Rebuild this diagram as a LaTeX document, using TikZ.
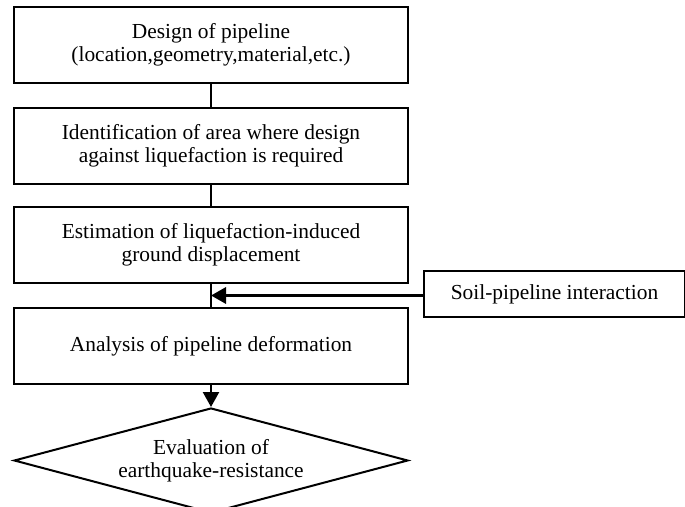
\documentclass[tikz,border=0pt]{standalone}
\usepackage{fontspec}
\setmainfont{Liberation Serif}
\usetikzlibrary{shapes.geometric, arrows.meta, positioning, calc}
\tikzset{
    flowbox/.style={rectangle, draw=black, fill=white, minimum width=197pt, minimum height=38pt, align=center, font=\fontsize{10.7pt}{11.7pt}\selectfont, line width=1pt, inner sep=2pt},
    flowdecision/.style={diamond, draw=black, fill=white, aspect=3.75, minimum width=197pt, minimum height=52.5pt, align=center, font=\fontsize{10.7pt}{11.7pt}\selectfont, line width=1pt, inner sep=0pt},
    sidebox/.style={rectangle, draw=black, fill=white, minimum width=130.5pt, minimum height=23pt, align=center, font=\fontsize{10.7pt}{11.7pt}\selectfont, line width=1pt},
    flowline/.style={line width=1pt},
    flowarrow/.style={-{Triangle[length=7.5pt, width=8pt]}, line width=#1},
    flowarrow/.default=1.2pt
}

\begin{document}
\begin{tikzpicture}[node distance=11.5pt]

\useasboundingbox (0,0) rectangle (342.5pt,-253.5pt);

\node[flowbox] (design) at (105.5pt,-22.5pt) {Design of pipeline\\(location,geometry,material,etc.)};
\node[flowbox, below=of design] (area) {Identification of area where design\\against liquefaction is required};
\node[flowbox, below=10.5pt of area] (disp) {Estimation of liquefaction-induced\\ground displacement};
\node[flowbox, below=of disp] (deform) {Analysis of pipeline deformation};
\node[flowdecision, below=11pt of deform] (eval) {Evaluation of\\earthquake-resistance};

\coordinate (join) at ($(disp.south)!0.5!(deform.north)$);
\node[sidebox, right=106pt of join, yshift=0.5pt] (soil) {Soil-pipeline interaction};

\draw[flowline] (design) -- (area);
\draw[flowline] (area) -- (disp);
\draw[flowline] (disp) -- (deform);
\draw[flowarrow=1.6pt] (soil.west |- join) -- (join);
\draw[flowarrow] (deform) -- (eval);

\end{tikzpicture}
\end{document}
